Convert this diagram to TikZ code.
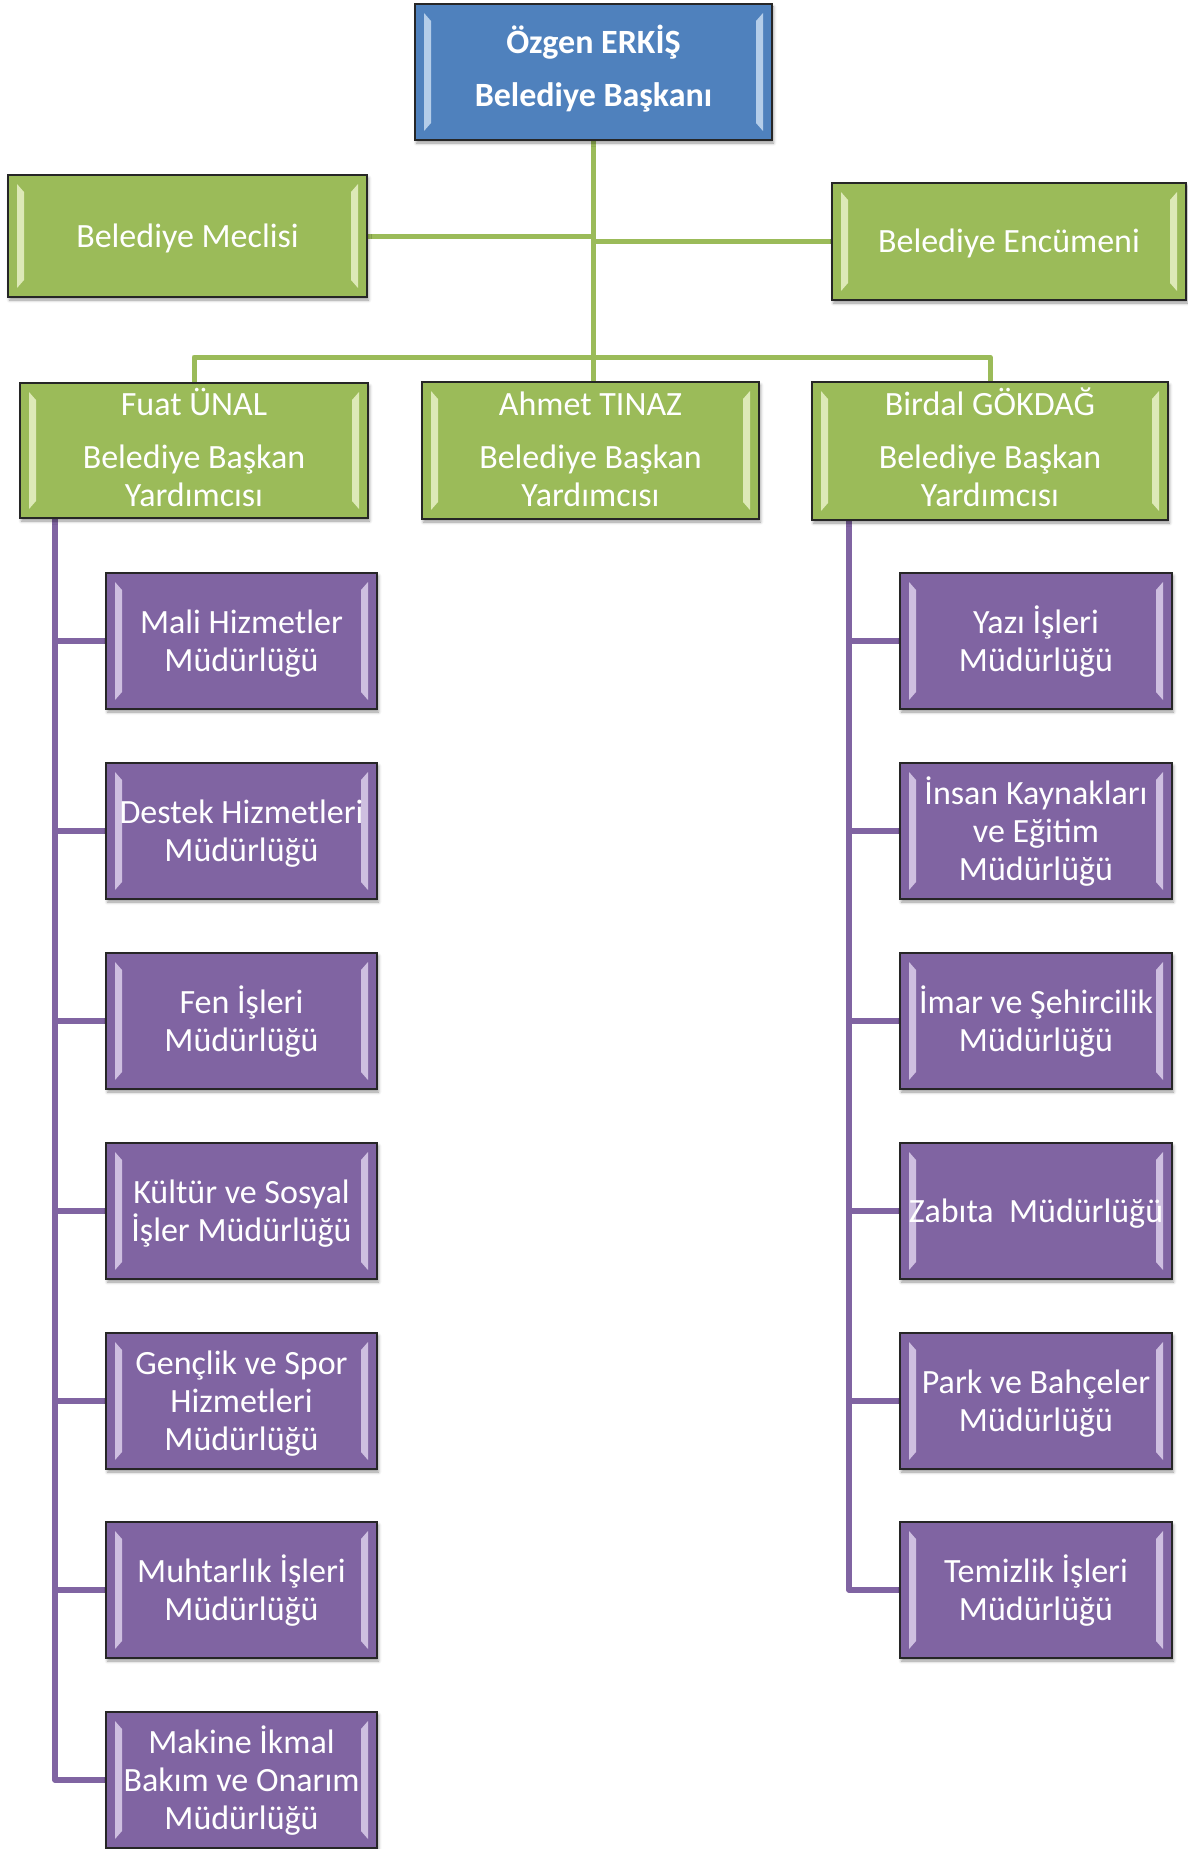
\documentclass[tikz,border=0pt]{standalone}
\usepackage{fontspec}
\setmainfont{Carlito}
\usetikzlibrary{shadows.blur,backgrounds}
\definecolor{cblue}{HTML}{4F81BD}
\definecolor{cgreen}{HTML}{9BBB59}
\definecolor{cpurple}{HTML}{8064A2}
\definecolor{lblue}{HTML}{C6DBF1}
\definecolor{lgreen}{HTML}{E9F2C8}
\definecolor{lpurple}{HTML}{DCD0EC}
\newcommand\Sa{\rule[-12pt]{0pt}{41pt}}
\newcommand\Sv{\rule[-9pt]{0pt}{38pt}}
\newcommand\Sp{\rule[-8pt]{0pt}{38pt}}
\newcommand\nolsk{\lineskiplimit=-100pt\relax}
\newcommand\fontA{\fontsize{34}{53}\selectfont\bfseries\nolsk}
\newcommand\fontB{\fontsize{34}{38}\selectfont\nolsk}
\tikzset{
  bev/.style={path picture={
    \fill[#1,opacity=.85] ([shift={(9pt,-9pt)}]path picture bounding box.north west) -- ([shift={(16pt,-17pt)}]path picture bounding box.north west) -- ([shift={(16pt,17pt)}]path picture bounding box.south west) -- ([shift={(9pt,9pt)}]path picture bounding box.south west) -- cycle;
    \fill[#1,opacity=.85] ([shift={(-9pt,-9pt)}]path picture bounding box.north east) -- ([shift={(-16pt,-17pt)}]path picture bounding box.north east) -- ([shift={(-16pt,17pt)}]path picture bounding box.south east) -- ([shift={(-9pt,9pt)}]path picture bounding box.south east) -- cycle;
  }},
  basebox/.style={draw=black!85, line width=1.5pt, inner sep=0pt, align=center, text=white,
    blur shadow={shadow xshift=1.5pt, shadow yshift=-3pt, shadow blur radius=3pt, shadow opacity=40}},
  bluebox/.style={basebox, fill=cblue, bev=lblue, font={\fontA}},
  greenbox/.style={basebox, fill=cgreen, bev=lgreen, font={\fontB}},
  purplebox/.style={basebox, fill=cpurple, bev=lpurple, minimum width=271pt, minimum height=136pt, font={\fontB}},
  gline/.style={draw=cgreen, line width=5pt, line join=round},
  pline/.style={draw=cpurple, line width=5.5pt, line join=round},
}
\begin{document}
\begin{tikzpicture}[x=1pt,y=-1pt]
\useasboundingbox (0,0) rectangle (1187,1849);
% top
\node[bluebox, minimum width=357pt, minimum height=136pt] (top) at (593.5,72) {\Sa Özgen ERKİŞ\\\Sa Belediye Başkanı};
\node[greenbox, minimum width=359pt, minimum height=122pt] (meclis) at (187.5,236) {\Sp Belediye Meclisi};
\node[greenbox, minimum width=354pt, minimum height=117pt] (encum) at (1009,241.5) {\Sp Belediye Encümeni};
% vice mayors
\node[greenbox, minimum width=348pt, minimum height=135pt] (fuat) at (194,450.5) {\Sv Fuat ÜNAL\\[15pt]\Sv Belediye Başkan\\\Sv Yardımcısı};
\node[greenbox, minimum width=337pt, minimum height=137pt] (ahmet) at (590.5,450.5) {\Sv Ahmet TINAZ\\[15pt]\Sv Belediye Başkan\\\Sv Yardımcısı};
\node[greenbox, minimum width=356pt, minimum height=138pt] (birdal) at (990,451) {\Sv Birdal GÖKDAĞ\\[15pt]\Sv Belediye Başkan\\\Sv Yardımcısı};
% left departments
\node[purplebox] (l1) at (241.5,641) {\Sp Mali Hizmetler\\\Sp Müdürlüğü};
\node[purplebox] (l2) at (241.5,831) {\Sp Destek Hizmetleri\\\Sp Müdürlüğü};
\node[purplebox] (l3) at (241.5,1021) {\Sp Fen İşleri\\\Sp Müdürlüğü};
\node[purplebox] (l4) at (241.5,1211) {\Sp Kültür ve Sosyal\\\Sp İşler Müdürlüğü};
\node[purplebox] (l5) at (241.5,1401) {\Sp Gençlik ve Spor\\\Sp Hizmetleri\\\Sp Müdürlüğü};
\node[purplebox] (l6) at (241.5,1590) {\Sp Muhtarlık İşleri\\\Sp Müdürlüğü};
\node[purplebox] (l7) at (241.5,1780) {\Sp Makine İkmal\\\Sp Bakım ve Onarım\\\Sp Müdürlüğü};
% right departments
\node[purplebox, minimum width=272pt] (r1) at (1036,641) {\Sp Yazı İşleri\\\Sp Müdürlüğü};
\node[purplebox, minimum width=272pt] (r2) at (1036,831) {\Sp İnsan Kaynakları\\\Sp ve Eğitim\\\Sp Müdürlüğü};
\node[purplebox, minimum width=272pt] (r3) at (1036,1021) {\Sp İmar ve Şehircilik\\\Sp Müdürlüğü};
\node[purplebox, minimum width=272pt] (r4) at (1036,1211) {\Sp Zabıta~\ Müdürlüğü};
\node[purplebox, minimum width=272pt] (r5) at (1036,1401) {\Sp Park ve Bahçeler\\\Sp Müdürlüğü};
\node[purplebox, minimum width=272pt] (r6) at (1036,1590) {\Sp Temizlik İşleri\\\Sp Müdürlüğü};
% connectors
\coordinate (bar) at (593.5,357);
\coordinate (lsp) at (55,518);
\coordinate (rsp) at (849,520);
\begin{scope}[on background layer]
\draw[gline] (top.south) -- (top.south |- ahmet.north);
\draw[gline] (meclis.east) -- (meclis.east -| top.south);
\draw[gline] (encum.west) -- (encum.west -| top.south);
\draw[gline] (fuat.north) |- (bar) -| (birdal.north);
\draw[pline] (lsp) |- (l7.west);
\foreach \i in {1,...,6} {\draw[pline] (l\i.west) -- (l\i.west -| lsp);}
\draw[pline] (rsp) |- (r6.west);
\foreach \i in {1,...,5} {\draw[pline] (r\i.west) -- (r\i.west -| rsp);}
\end{scope}
\end{tikzpicture}
\end{document}
